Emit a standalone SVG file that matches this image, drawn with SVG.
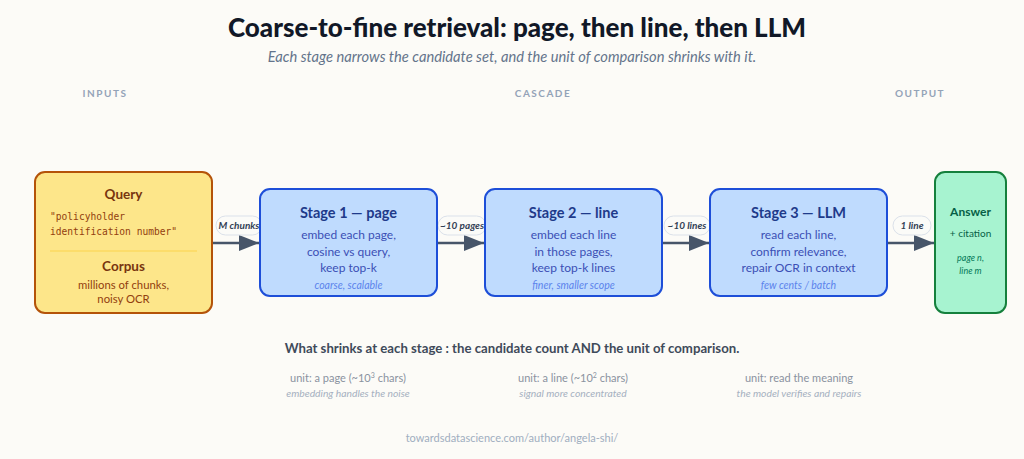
<svg xmlns="http://www.w3.org/2000/svg" width="1024" height="459" viewBox="0 0 1024 459">
<defs>
<marker id="ah" viewBox="0 0 10 8" refX="10" refY="4" markerWidth="20" markerHeight="16" markerUnits="userSpaceOnUse" orient="auto">
<path d="M0,0 L10,4 L0,8 Z" fill="#475569"/>
</marker>
<style>
text{font-family:"Lato","Open Sans","Liberation Sans",sans-serif}
.title{font-size:26px;font-weight:900;fill:#111827}
.sub{font-size:14.7px;font-style:italic;fill:#64748b}
.hdr{font-size:10px;font-weight:700;fill:#94a3b8;letter-spacing:1.5px}
.stage rect{fill:#bfdbfe;stroke:#1d4ed8;stroke-width:2}
.st{font-size:14.5px;font-weight:700;fill:#1e3a8a}
.sb{font-size:12px;fill:#3b4fb5}
.si{font-size:10.5px;font-style:italic;fill:#5b83ec}
.in rect{fill:#fde68a;stroke:#b45309;stroke-width:2}
.it{font-size:13.5px;font-weight:700;fill:#78350f}
.ib{font-size:11.3px;fill:#92400e}
.mono{font-family:"DejaVu Sans Mono","Liberation Mono",monospace;font-size:9.6px;fill:#92400e}
.out rect{fill:#a7f3d0;stroke:#15803d;stroke-width:2}
.ot{font-size:12px;font-weight:700;fill:#065f46}
.ob{font-size:10px;fill:#065f46}
.oi{font-size:9px;font-style:italic;fill:#047857}
.edge line{stroke:#475569;stroke-width:2.5}
.pill{fill:#fbfbf8;stroke:#dbe1ea;stroke-width:1}
.pl{font-size:10px;font-weight:700;font-style:italic;fill:#334155}
.note{font-size:13.2px;font-weight:700;fill:#3f4a5a}
.u{font-size:11px;fill:#8a929f}
.ui{font-size:10.3px;font-style:italic;fill:#a5b0c0}
.foot{font-size:11px;fill:#a0aec0}
</style>
</defs>
<rect width="1024" height="459" fill="#fcfbf7"/>
<text class="title" x="517" y="37" text-anchor="middle">Coarse-to-fine retrieval: page, then line, then LLM</text>
<text class="sub" x="512" y="62" text-anchor="middle">Each stage narrows the candidate set, and the unit of comparison shrinks with it.</text>
<text class="hdr" x="105" y="97" text-anchor="middle">INPUTS</text>
<text class="hdr" x="543" y="97" text-anchor="middle">CASCADE</text>
<text class="hdr" x="920" y="97" text-anchor="middle">OUTPUT</text>

<g id="connectors" class="edge">
<line x1="212" y1="243" x2="259" y2="243" marker-end="url(#ah)"/>
<line x1="437" y1="243" x2="484" y2="243" marker-end="url(#ah)"/>
<line x1="662" y1="243" x2="709" y2="243" marker-end="url(#ah)"/>
<line x1="887" y1="243" x2="934" y2="243" marker-end="url(#ah)"/>
<rect class="pill" x="216" y="216" width="46" height="19" rx="9.5"/>
<text class="pl" x="239" y="229" text-anchor="middle">M chunks</text>
<rect class="pill" x="438" y="216" width="48" height="19" rx="9.5"/>
<text class="pl" x="462" y="229" text-anchor="middle">~10 pages</text>
<rect class="pill" x="664" y="216" width="46" height="19" rx="9.5"/>
<text class="pl" x="687" y="229" text-anchor="middle">~10 lines</text>
<rect class="pill" x="893" y="216" width="38" height="19" rx="9.5"/>
<text class="pl" x="912" y="229" text-anchor="middle">1 line</text>
</g>

<g id="inputs" class="in">
<rect x="35" y="172" width="177" height="141" rx="10"/>
<text class="it" x="123.5" y="199" text-anchor="middle">Query</text>
<text class="mono" x="50" y="220">"policyholder</text>
<text class="mono" x="50" y="235">identification number"</text>
<line x1="50" y1="251" x2="197" y2="251" stroke="#fcd34d" stroke-width="1"/>
<text class="it" x="123.5" y="271" text-anchor="middle">Corpus</text>
<text class="ib" x="123.5" y="289" text-anchor="middle">millions of chunks,</text>
<text class="ib" x="123.5" y="303" text-anchor="middle">noisy OCR</text>
</g>

<g id="stage1" class="stage">
<rect x="260" y="189" width="177" height="107" rx="10"/>
<text class="st" x="348.5" y="218" text-anchor="middle">Stage 1 — page</text>
<text class="sb" x="348.5" y="239" text-anchor="middle">embed each page,</text>
<text class="sb" x="348.5" y="256" text-anchor="middle">cosine vs query,</text>
<text class="sb" x="348.5" y="272" text-anchor="middle">keep top-k</text>
<text class="si" x="348.5" y="289" text-anchor="middle">coarse, scalable</text>
</g>

<g id="stage2" class="stage">
<rect x="485" y="189" width="177" height="107" rx="10"/>
<text class="st" x="573.5" y="218" text-anchor="middle">Stage 2 — line</text>
<text class="sb" x="573.5" y="239" text-anchor="middle">embed each line</text>
<text class="sb" x="573.5" y="256" text-anchor="middle">in those pages,</text>
<text class="sb" x="573.5" y="272" text-anchor="middle">keep top-k lines</text>
<text class="si" x="573.5" y="289" text-anchor="middle">finer, smaller scope</text>
</g>

<g id="stage3" class="stage">
<rect x="710" y="189" width="177" height="107" rx="10"/>
<text class="st" x="798.5" y="218" text-anchor="middle">Stage 3 — LLM</text>
<text class="sb" x="798.5" y="239" text-anchor="middle">read each line,</text>
<text class="sb" x="798.5" y="256" text-anchor="middle">confirm relevance,</text>
<text class="sb" x="798.5" y="272" text-anchor="middle">repair OCR in context</text>
<text class="si" x="798.5" y="289" text-anchor="middle">few cents / batch</text>
</g>

<g id="answer" class="out">
<rect x="935" y="172" width="71" height="141" rx="10"/>
<text class="ot" x="970.5" y="216" text-anchor="middle">Answer</text>
<text class="ob" x="970.5" y="237" text-anchor="middle">+ citation</text>
<text class="oi" x="970.5" y="261" text-anchor="middle">page n,</text>
<text class="oi" x="970.5" y="274" text-anchor="middle">line m</text>
</g>

<text class="note" x="512" y="353" text-anchor="middle">What shrinks at each stage : the candidate count AND the unit of comparison.</text>
<text class="u" x="348" y="382" text-anchor="middle">unit: a page (~10<tspan font-size="7" dy="-4">3</tspan><tspan dy="4"> chars)</tspan></text>
<text class="ui" x="348" y="397" text-anchor="middle">embedding handles the noise</text>
<text class="u" x="573" y="382" text-anchor="middle">unit: a line (~10<tspan font-size="7" dy="-4">2</tspan><tspan dy="4"> chars)</tspan></text>
<text class="ui" x="573" y="397" text-anchor="middle">signal more concentrated</text>
<text class="u" x="799" y="382" text-anchor="middle">unit: read the meaning</text>
<text class="ui" x="799" y="397" text-anchor="middle">the model verifies and repairs</text>
<text class="foot" x="512" y="442" text-anchor="middle">towardsdatascience.com/author/angela-shi/</text>
</svg>
